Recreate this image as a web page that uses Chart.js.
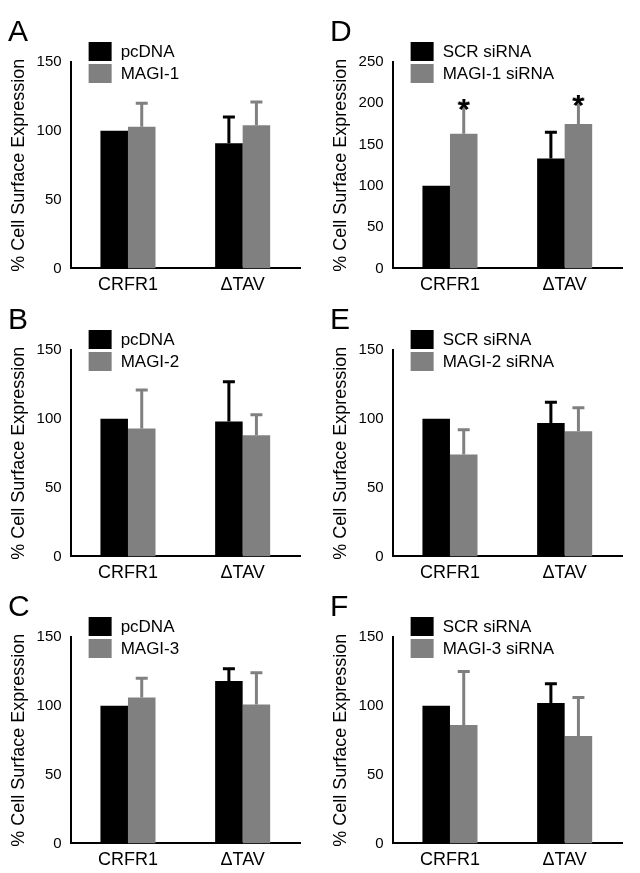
<!DOCTYPE html>
<html><head>
<script src="https://cdn.jsdelivr.net/npm/chart.js@4"></script>
<style>
body{margin:0;background:#fff;width:640px;height:873px;position:relative;font-family:"Liberation Sans",Arial,sans-serif}
.p{position:absolute;width:318px;height:270px}
.l{position:absolute;font-size:30px;color:#000}
</style></head><body>
<script>
// data
const categories = ['CRFR1', 'ΔTAV'];
const panels = [
  {id:'A', s1:'pcDNA', s2:'MAGI-1', v1:[100,91], t1:[null,110], v2:[103,104], t2:[120,121], max:150},
  {id:'B', s1:'pcDNA', s2:'MAGI-2', v1:[100,98], t1:[null,127], v2:[93,88], t2:[121,103], max:150},
  {id:'C', s1:'pcDNA', s2:'MAGI-3', v1:[100,118], t1:[null,127], v2:[106,101], t2:[120,124], max:150},
  {id:'D', s1:'SCR siRNA', s2:'MAGI-1 siRNA', v1:[100,133], t1:[null,165], v2:[163,175], t2:[200,205], max:250, star:[true,true]},
  {id:'E', s1:'SCR siRNA', s2:'MAGI-2 siRNA', v1:[100,97], t1:[null,112], v2:[74,91], t2:[92,108], max:150},
  {id:'F', s1:'SCR siRNA', s2:'MAGI-3 siRNA', v1:[100,102], t1:[null,116], v2:[86,78], t2:[125,106], max:150}
];
const colors = ['#000000', '#808080'];
const FONT = '"Liberation Sans", Arial, sans-serif';

const extras = {
  id:'extras',
  afterDatasetsDraw(chart){
    const ctx = chart.ctx, y = chart.scales.y;
    chart.data.datasets.forEach((ds, i) => {
      chart.getDatasetMeta(i).data.forEach((bar, j) => {
        const top = ds.tops[j];
        if (top == null) return;
        const yp = y.getPixelForValue(top);
        ctx.save(); ctx.strokeStyle = ds.backgroundColor; ctx.lineWidth = 3;
        ctx.beginPath(); ctx.moveTo(bar.x, bar.y); ctx.lineTo(bar.x, yp);
        ctx.moveTo(bar.x - 6, yp); ctx.lineTo(bar.x + 6, yp); ctx.stroke();
        if (ds.star && ds.star[j]) {
          ctx.fillStyle = '#000'; ctx.font = 'bold 30px ' + FONT; ctx.textAlign = 'center';
          ctx.fillText('*', bar.x, yp + 16);
        }
        ctx.restore();
      });
    });
    // legend
    const ca = chart.chartArea;
    ctx.save(); ctx.font = '17px ' + FONT; ctx.textBaseline = 'middle';
    chart.data.datasets.forEach((ds, i) => {
      const yy = ca.top - 20 + i * 22;
      ctx.fillStyle = ds.backgroundColor; ctx.fillRect(ca.left + 18, yy, 23, 19);
      ctx.fillStyle = '#000'; ctx.fillText(ds.label, ca.left + 50, yy + 10);
    });
    ctx.restore();
  }
};

panels.forEach((p, k) => {
  const col = k < 3 ? 0 : 1, row = k % 3;
  const top = [34, 322, 609][row];
  const d = document.createElement('div'); d.className = 'p';
  d.style.left = (col * 322) + 'px'; d.style.top = top + 'px';
  const c = document.createElement('canvas');
  c.width = 318; c.height = 270;
  d.appendChild(c); document.body.appendChild(d);
  const lab = document.createElement('div'); lab.className = 'l'; lab.textContent = p.id;
  lab.style.left = (col * 322 + 8) + 'px'; lab.style.top = (top - 20) + 'px'; document.body.appendChild(lab);
  new Chart(c, {
    type:'bar',
    data:{labels:categories, datasets:[
      {label:p.s1, data:p.v1, tops:p.t1, backgroundColor:colors[0]},
      {label:p.s2, data:p.v2, tops:p.t2, backgroundColor:colors[1], star:p.star}
    ]},
    options:{
      responsive:false, animation:false, devicePixelRatio:1,
      layout:{padding:{top:28, right:18, bottom:2, left:4}},
      categoryPercentage:0.48, barPercentage:1,
      plugins:{legend:{display:false}, tooltip:{enabled:false}},
      scales:{
        x:{grid:{display:false, drawTicks:false}, border:{color:'#000', width:2},
           ticks:{color:'#000', font:{family:FONT, size:18}, padding:6}},
        y:{min:0, max:p.max, grid:{display:false, drawTicks:true, tickLength:6, tickColor:'#000', tickWidth:2},
           border:{color:'#000', width:2},
           ticks:{stepSize:50, color:'#000', font:{family:FONT, size:15}, padding:3},
           title:{display:true, text:'% Cell Surface Expression', color:'#000', font:{family:FONT, size:18}}}
      }
    },
    plugins:[extras]
  });
});
</script>
</body></html>
